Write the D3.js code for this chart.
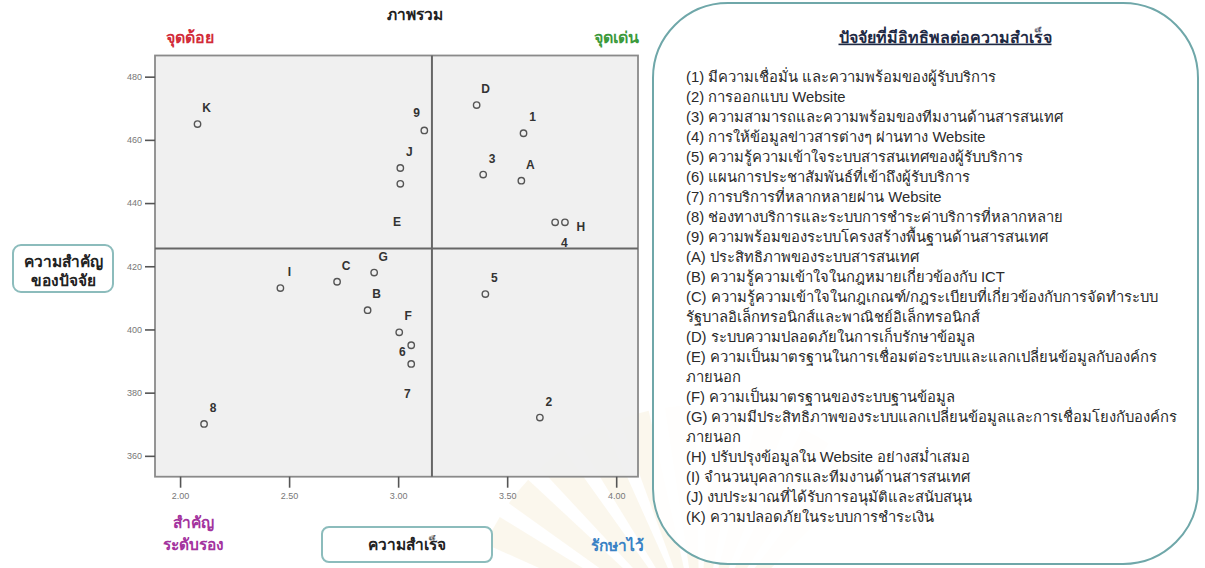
<!DOCTYPE html>
<html lang="th">
<head>
<meta charset="UTF-8">
<title>ภาพรวม</title>
<script src="https://d3js.org/d3.v7.min.js"></script>
<style>
  body { margin: 0; background: #fff; }
  svg text { font-family: "Liberation Sans", "DejaVu Sans", "Noto Sans", sans-serif; }
</style>
</head>
<body>
<div id="chart"></div>
<script>
// factor codes and their mean scores
const codes   = ["K", "I", "C", "8", "9", "J", "E", "D", "1", "3", "A", "4", "H", "G", "B", "F", "6", "7", "5", "2"];
const success = [2.08, 2.46, 2.72, 2.11, 3.12, 3.01, 3.01, 3.36, 3.575, 3.39, 3.565, 3.72, 3.765, 2.89, 2.86, 3.005, 3.06, 3.06, 3.40, 3.65];
const importance = [465.0, 413.1, 415.1, 370.1, 463.0, 451.1, 446.1, 471.0, 462.1, 449.0, 447.1, 433.9, 433.9, 418.0, 406.1, 399.1, 395.0, 389.1, 411.2, 372.1];

const xTicks = [2.0, 2.5, 3.0, 3.5, 4.0];
const yTicks = [360, 380, 400, 420, 440, 460, 480];
const xMean = 3.155;
const yMean = 425.6;

const legendTitle = "ปัจจัยที่มีอิทธิพลต่อความสำเร็จ";
const legendLines = [
  "(1) มีความเชื่อมั่น และความพร้อมของผู้รับบริการ",
  "(2) การออกแบบ Website",
  "(3) ความสามารถและความพร้อมของทีมงานด้านสารสนเทศ",
  "(4) การให้ข้อมูลข่าวสารต่างๆ ผ่านทาง Website",
  "(5) ความรู้ความเข้าใจระบบสารสนเทศของผู้รับบริการ",
  "(6) แผนการประชาสัมพันธ์ที่เข้าถึงผู้รับบริการ",
  "(7) การบริการที่หลากหลายผ่าน Website",
  "(8) ช่องทางบริการและระบบการชำระค่าบริการที่หลากหลาย",
  "(9) ความพร้อมของระบบโครงสร้างพื้นฐานด้านสารสนเทศ",
  "(A) ประสิทธิภาพของระบบสารสนเทศ",
  "(B) ความรู้ความเข้าใจในกฎหมายเกี่ยวข้องกับ ICT",
  "(C) ความรู้ความเข้าใจในกฎเกณฑ์/กฎระเบียบที่เกี่ยวข้องกับการจัดทำระบบ",
  "รัฐบาลอิเล็กทรอนิกส์และพาณิชย์อิเล็กทรอนิกส์",
  "(D) ระบบความปลอดภัยในการเก็บรักษาข้อมูล",
  "(E) ความเป็นมาตรฐานในการเชื่อมต่อระบบและแลกเปลี่ยนข้อมูลกับองค์กร",
  "ภายนอก",
  "(F) ความเป็นมาตรฐานของระบบฐานข้อมูล",
  "(G) ความมีประสิทธิภาพของระบบแลกเปลี่ยนข้อมูลและการเชื่อมโยงกับองค์กร",
  "ภายนอก",
  "(H) ปรับปรุงข้อมูลใน Website อย่างสม่ำเสมอ",
  "(I) จำนวนบุคลากรและทีมงานด้านสารสนเทศ",
  "(J) งบประมาณที่ได้รับการอนุมัติและสนับสนุน",
  "(K) ความปลอดภัยในระบบการชำระเงิน"
];

const W = 1205, H = 568;
const plot = {left: 155, top: 55.5, right: 638, bottom: 476.7};

const svg = d3.select("#chart").append("svg")
  .attr("width", W).attr("height", H);

// faint watermark fan behind the bottom right of the chart
const fan = svg.append("g").attr("transform", "translate(700,640)");
d3.range(10).forEach(i => {
  const a0 = -1.15 + i * 0.2;
  fan.append("path")
    .attr("d", d3.arc()({innerRadius: 60, outerRadius: 235, startAngle: a0, endAngle: a0 + 0.13}))
    .attr("fill", "#f7f1df").attr("opacity", 0.55);
});

const x = d3.scaleLinear().domain([1.885, 4.1]).range([plot.left, plot.right]);
const y = d3.scaleLinear().domain([353.4, 486.7]).range([plot.bottom, plot.top]);

// plot background
svg.append("rect")
  .attr("x", plot.left).attr("y", plot.top)
  .attr("width", plot.right - plot.left).attr("height", plot.bottom - plot.top)
  .attr("fill", "#efefef").attr("fill-opacity", 0.93)
  .attr("stroke", "#8a8a8a").attr("stroke-width", 1.8);

// axes
const yAxis = svg.append("g")
  .attr("transform", `translate(${plot.left},0)`)
  .call(d3.axisLeft(y).tickValues(yTicks).tickFormat(d3.format("d")).tickSize(10).tickPadding(3));
const xAxis = svg.append("g")
  .attr("transform", `translate(0,${plot.bottom})`)
  .call(d3.axisBottom(x).tickValues(xTicks).tickFormat(d3.format(".2f")).tickSize(11).tickPadding(5));
[xAxis, yAxis].forEach(a => {
  a.select(".domain").remove();
  a.selectAll(".tick line").attr("stroke", "#555").attr("stroke-width", 1.6);
  a.selectAll(".tick text").attr("fill", "#777").style("font-size", "9px");
});

// quadrant lines at the means
svg.append("line")
  .attr("x1", x(xMean)).attr("x2", x(xMean))
  .attr("y1", plot.top).attr("y2", plot.bottom)
  .attr("stroke", "#666").attr("stroke-width", 2);
svg.append("line")
  .attr("x1", plot.left).attr("x2", plot.right)
  .attr("y1", y(yMean)).attr("y2", y(yMean))
  .attr("stroke", "#666").attr("stroke-width", 2);

const pts = codes.map((c, i) => ({code: c, sx: success[i], iy: importance[i]}));

svg.append("g").selectAll("circle")
  .data(pts).join("circle")
  .attr("cx", d => x(d.sx)).attr("cy", d => y(d.iy))
  .attr("r", 3.2)
  .attr("fill", "none").attr("stroke", "#555").attr("stroke-width", 1.4);

// label placement, most sit up and to the right of their point
const nudge = {"9": [-7.6, -18], "E": [-3.3, 38.3], "4": [9.3, 20.4], "H": [16, 4], "6": [-9, 6.7], "7": [-4, 30]};
svg.append("g").selectAll("text")
  .data(pts).join("text")
  .attr("x", d => x(d.sx) + (nudge[d.code] ? nudge[d.code][0] : 9))
  .attr("y", d => y(d.iy) + (nudge[d.code] ? nudge[d.code][1] : -16))
  .attr("dy", "0.35em")
  .attr("text-anchor", "middle")
  .attr("fill", "#333").style("font-size", "12px").style("font-weight", "bold")
  .text(d => d.code);

// titles around the chart
const t = (txt, tx, ty, col, size) => svg.append("text")
  .attr("x", tx).attr("y", ty).attr("text-anchor", "middle").attr("dy", "0.35em")
  .attr("fill", col).style("font-size", size + "px").style("font-weight", "bold").text(txt);

t("ภาพรวม", 415, 15, "#222", 15.5);
t("จุดด้อย", 190, 37, "#d22b3a", 16);
t("จุดเด่น", 616, 37, "#3c9a3c", 16);
t("สำคัญ", 193, 523, "#a3339e", 15.5);
t("ระดับรอง", 193, 545, "#a3339e", 15.5);
t("รักษาไว้", 617, 546, "#3a82c4", 15.5);

// boxed axis titles
svg.append("rect").attr("x", 322).attr("y", 527).attr("width", 170).attr("height", 35)
  .attr("rx", 7).attr("fill", "#fff").attr("stroke", "#8cbcbc").attr("stroke-width", 2);
t("ความสำเร็จ", 407, 545, "#222", 15.5);

svg.append("rect").attr("x", 13).attr("y", 245).attr("width", 100).attr("height", 47)
  .attr("rx", 8).attr("fill", "#fff").attr("stroke", "#8cbcbc").attr("stroke-width", 2);
t("ความสำคัญ", 63, 262, "#222", 15.5);
t("ของปัจจัย", 63, 281, "#222", 15.5);

// legend panel
svg.append("rect").attr("x", 653).attr("y", 3).attr("width", 545).attr("height", 561)
  .attr("rx", 75).attr("fill", "#fff").attr("fill-opacity", 0.85)
  .attr("stroke", "#6fa7a9").attr("stroke-width", 2);

svg.append("text").attr("x", 945).attr("y", 37).attr("text-anchor", "middle").attr("dy", "0.35em")
  .attr("fill", "#1f2a44").style("font-size", "16px").style("font-weight", "bold")
  .style("text-decoration", "underline").text(legendTitle);

svg.append("g").selectAll("text")
  .data(legendLines).join("text")
  .attr("x", 686).attr("y", (d, i) => 77 + i * 20)
  .attr("dy", "0.35em")
  .attr("fill", "#2a2a2a").style("font-size", "14.8px")
  .text(d => d);
</script>
</body>
</html>
